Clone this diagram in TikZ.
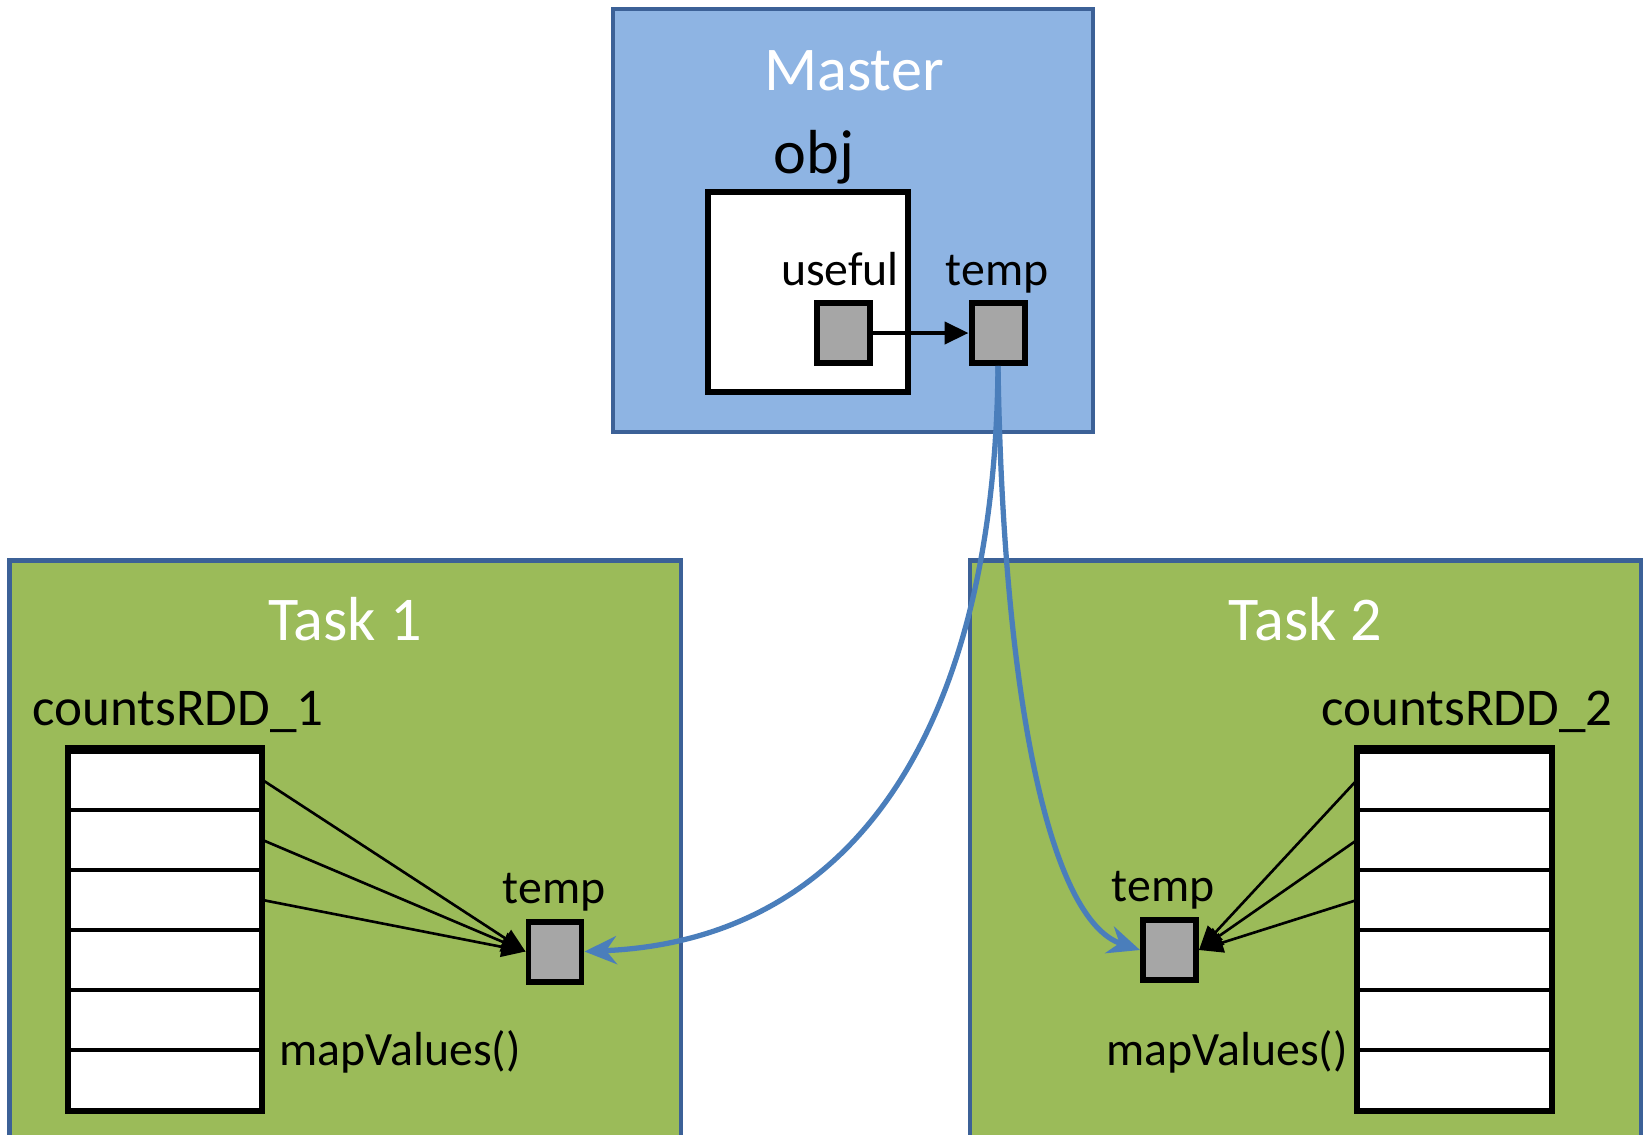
\documentclass[tikz,border=0pt]{standalone}
\usepackage{fontspec}
\setmainfont{Carlito}
\usetikzlibrary{arrows.meta,fit}
\definecolor{MasterFill}{HTML}{8EB4E3}
\definecolor{FrameBlue}{HTML}{3C6197}
\definecolor{TaskFill}{HTML}{9BBB59}
\definecolor{LinkBlue}{HTML}{4A7EBB}
\definecolor{CellGray}{HTML}{A6A6A6}

\begin{document}
\begin{tikzpicture}[
    frame/.style={fill=#1, draw=FrameBlue, line width=1.3pt},
    title/.style={anchor=base, text=white, inner sep=0pt,
                  font=\fontsize{17.7}{21}\selectfont},
    name label/.style={anchor=base, inner sep=0pt,
                       font=\fontsize{15.1}{18}\selectfont},
    small label/.style={anchor=base, inner sep=0pt,
                        font=\fontsize{13.6}{16}\selectfont},
    cell/.style={draw, fill=CellGray, line width=1.7pt, inner sep=0pt,
                 minimum width=0.53cm, minimum height=0.60cm},
    row/.style={draw, fill=white, line width=0.9pt, inner sep=0pt,
                minimum width=1.92cm, minimum height=0.60cm},
    table edge/.style={draw, line width=1.5pt, inner sep=0pt},
    feed/.style={-{Triangle[length=2.4mm,width=2.0mm]}, line width=0.75pt},
    ref/.style={-{Triangle[length=2.4mm,width=2.2mm]}, line width=1.2pt},
    broadcast/.style={-{Stealth[length=3.2mm,width=2.8mm]},
                      draw=LinkBlue, line width=1.5pt}
]
    \useasboundingbox (0,0) rectangle (16.43,-11.34);
    \clip (0,0) rectangle (16.43,-11.34);

    % Master
    \filldraw[frame=MasterFill] (6.13,-0.09) rectangle (10.93,-4.32);
    \node[title] (master) at (8.54,-0.90) {Master};
    \node[title, text=black] (objlabel) at (8.14,-1.73) {obj};
    \filldraw[fill=white, draw=black, line width=1.5pt]
        (7.08,-1.92) rectangle (9.08,-3.92);
    \node[small label] (usefullabel) at (8.40,-2.85) {useful};
    \node[small label] (templabel0) at (9.97,-2.85) {temp};
    \node[cell] (useful) at (8.435,-3.33) {};
    \node[cell] (temp0) at (9.98,-3.33) {};
    \draw[ref] (useful.east) -- (temp0.west);

    % Task 1
    \filldraw[frame=TaskFill] (0.094,-5.606) rectangle (6.81,-11.60);
    \node[title] (task1) at (3.45,-6.40) {Task 1};
    \node[name label] (rdd1label) at (1.78,-7.25) {countsRDD\_1};
    \foreach \i in {1,...,6} {
        \node[row] (a\i) at (1.65,{-7.50-0.60*\i+0.30}) {};
    }
    \node[table edge, fit=(a1)(a6)] (rdd1) {};
    \draw[line width=2.6pt] ([yshift=-1pt]rdd1.north west)
        -- ([yshift=-1pt]rdd1.north east);
    \node[cell] (temp1) at (5.55,-9.515) {};
    \node[small label] (templabel1) at (5.54,-9.03) {temp};
    \node[small label, anchor=base west] (map1) at (2.79,-10.65)
        {mapValues()};
    \foreach \i in {1,2,3} {
        \draw[feed] (a\i.east) -- (temp1.west);
    }

    % Task 2
    \filldraw[frame=TaskFill] (9.70,-5.606) rectangle (16.41,-11.60);
    \node[title] (task2) at (13.055,-6.40) {Task 2};
    \node[name label] (rdd2label) at (14.67,-7.25) {countsRDD\_2};
    \foreach \i in {1,...,6} {
        \node[row] (b\i) at (14.545,{-7.50-0.60*\i+0.30}) {};
    }
    \node[table edge, fit=(b1)(b6)] (rdd2) {};
    \draw[line width=2.6pt] ([yshift=-1pt]rdd2.north west)
        -- ([yshift=-1pt]rdd2.north east);
    \node[cell] (temp2) at (11.695,-9.50) {};
    \node[small label] (templabel2) at (11.63,-9.01) {temp};
    \node[small label, anchor=base east] (map2) at (13.485,-10.65)
        {mapValues()};
    \foreach \i in {1,2,3} {
        \draw[feed] (b\i.west) -- (temp2.east);
    }

    % shipping temp to the tasks
    \draw[broadcast] (temp0.south) .. controls (9.95,-7.2) and (8.6,-9.4)
        .. (temp1.east);
    \draw[broadcast] (temp0.south) .. controls (10.03,-7.0) and (10.5,-9.2)
        .. (temp2.west);
\end{tikzpicture}
\end{document}
